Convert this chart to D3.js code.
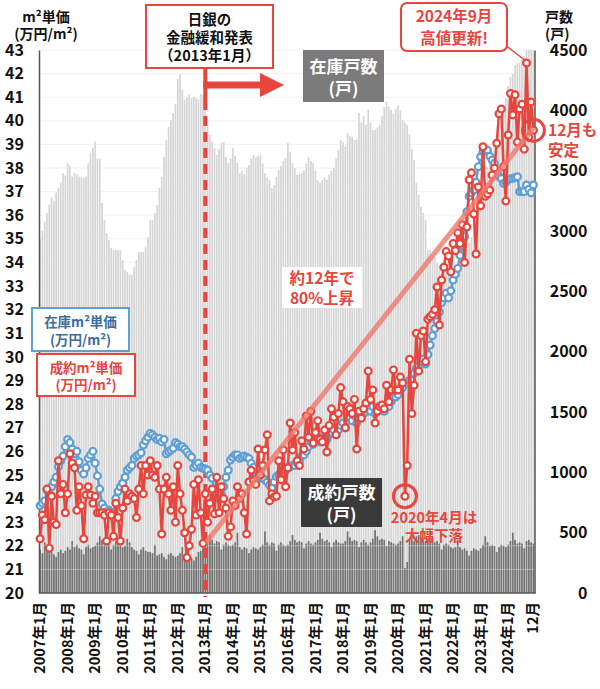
<!DOCTYPE html>
<html><head><meta charset="utf-8">
<script src="https://cdn.jsdelivr.net/npm/d3@7"></script>
<style>
body{margin:0;background:#fff;}
svg text{font-family:"Noto Sans CJK JP","Noto Sans",sans-serif;font-weight:700;}
</style></head>
<body><svg id="c" width="600" height="689"></svg>
<script>
const years = d3.range(2007, 2025);
const leftTicks = d3.range(20, 44);
const rightTicks = d3.range(0, 4501, 500);

// 在庫戸数 (戸)
const inventory = [
 2930,3000,3080,3150,3220,3280,3250,3320,3360,3400,3480,3460,
 3560,3540,3450,3480,3470,3450,3445,3440,3450,3560,3650,3690,
 3740,3600,3600,3232,3091,2983,2925,2860,2842,2842,2840,2842,
 2760,2676,2660,2640,2635,2700,2760,2825,2825,2825,2870,2950,
 3090,3090,3150,3215,3356,3447,3613,3754,3862,3920,3978,4052,
 4260,4300,4170,4090,4110,4130,4100,4110,4100,4090,4135,4125,
 4000,3880,3795,3740,3688,3630,3680,3729,3737,3613,3563,3600,
 3688,3620,3563,3480,3500,3470,3520,3547,3597,3630,3610,3620,
 3630,3560,3480,3440,3422,3356,3380,3450,3505,3540,3580,3605,
 3729,3655,3563,3520,3464,3470,3480,3500,3560,3613,3580,3563,
 3500,3422,3400,3422,3440,3422,3470,3500,3522,3600,3670,3754,
 3740,3700,3812,3790,3780,3754,3760,3978,3900,3950,3880,4003,
 3900,3837,3837,3860,3880,3950,4028,4069,4030,4003,3970,4010,
 4044,4000,3920,3900,3878,3800,3680,3588,3400,3300,3200,3150,
 3091,2842,2842,2800,2785,2735,2720,2700,2680,2700,2690,2660,
 2650,2680,2700,2720,2750,2800,2850,2900,2950,3000,3100,3200,
 3250,3330,3420,3530,3580,3640,3700,3754,3820,3900,4003,4100,
 4200,4276,4300,4375,4390,4392,4420,4450,4500,4500,4500,4500
];
// 成約戸数 (戸)
const contracts = [
 360,330,420,350,340,370,320,300,340,360,330,350,
 380,360,430,380,400,370,360,320,380,400,370,380,
 390,420,470,440,400,420,410,360,400,430,410,400,
 380,390,450,420,380,360,350,320,360,380,350,340,
 340,330,400,310,320,330,300,280,320,330,310,300,
 310,330,380,320,300,310,290,270,300,340,350,380,
 400,420,480,440,410,430,420,360,400,420,400,390,
 400,420,500,380,360,380,370,330,360,380,370,360,
 380,400,510,420,400,420,410,350,400,420,400,390,
 400,430,480,440,420,430,420,370,410,430,410,400,
 420,440,500,450,430,440,420,380,420,440,420,410,
 410,430,510,460,430,440,430,380,420,440,420,400,
 420,450,520,470,440,450,440,390,430,420,410,400,
 410,430,470,207,257,440,480,430,470,480,460,440,
 430,450,520,460,420,430,410,360,400,410,400,380,
 370,380,440,380,360,370,350,310,350,370,360,350,
 370,400,470,420,390,400,390,340,380,400,390,380,
 400,430,500,440,410,420,410,370,430,440,420,410
];
// 在庫m²単価 (万円/m²)
const invPrice = [
 23.7,23.8,23.9,24.36,24.4,24.5,24.7,24.9,25.35,25.6,25.8,26.2,
 26.5,26.37,26.1,25.9,26.0,25.56,25.2,25.04,25.3,25.7,25.85,26.0,
 25.5,24.96,24.4,23.77,23.6,23.44,23.5,23.4,23.38,24.0,24.3,24.5,
 24.65,24.9,25.2,25.3,25.4,25.7,25.8,25.85,25.94,26.27,26.45,26.6,
 26.76,26.7,26.6,26.5,26.55,26.4,26.5,25.9,25.98,26.05,26.13,26.37,
 26.3,26.2,26.2,26.1,25.98,25.85,25.75,25.32,25.4,25.5,25.32,25.28,
 25.25,25.2,25.0,24.86,24.36,24.2,24.0,24.2,24.5,24.9,25.2,25.63,
 25.75,25.85,25.85,25.7,25.75,25.8,25.75,25.7,25.5,25.32,25.1,25.0,
 24.9,24.85,24.8,24.7,24.57,24.43,24.7,24.93,25.0,25.05,25.1,25.2,
 25.32,25.35,25.4,25.4,25.5,25.56,25.8,25.85,26.0,26.2,26.4,26.3,
 26.5,26.6,26.4,26.5,26.6,26.5,26.7,26.8,26.9,26.7,26.9,27.1,
 27.2,27.0,27.3,27.4,27.3,27.5,27.2,27.4,27.5,27.6,27.7,27.8,
 27.7,27.9,27.6,27.7,27.8,27.9,27.7,28.0,27.9,28.1,28.3,28.3,
 28.4,28.6,28.7,28.9,28.9,29.0,29.0,29.3,29.5,29.6,29.8,29.9,
 29.7,30.1,30.5,30.9,31.2,31.5,31.9,32.3,32.5,32.7,32.5,32.8,
 33.26,33.5,33.75,34.3,34.7,35.1,36.15,36.8,36.95,37.07,37.4,38.06,
 38.48,38.7,38.75,38.76,38.5,38.34,38.2,37.78,37.65,37.56,37.35,37.4,
 37.5,37.55,37.56,37.6,37.63,37.0,37.0,37.0,37.28,37.1,36.95,37.28
];
// 成約m²単価 (万円/m²)
const contractPrice = [
 22.3,23.3,23.1,24.4,21.9,24.1,23.0,22.9,25.6,24.2,24.6,23.4,
 24.2,25.9,25.5,25.3,23.5,24.5,23.7,22.3,24.15,24.5,24.15,23.8,
 24.1,23.4,23.4,23.4,23.3,22.2,23.4,23.3,22.4,23.8,23.2,22.2,
 23.6,24.4,23.9,24.2,24.1,24.0,23.2,24.4,25.4,24.2,25.4,25.0,
 25.6,25.0,24.9,25.4,24.4,22.5,24.4,24.9,24.2,23.5,24.5,23.0,
 25.4,24.2,23.5,22.55,21.5,22.0,22.7,24.6,23.3,24.8,23.4,22.1,
 24.2,23.0,23.8,24.4,23.35,24.9,23.4,24.5,24.0,23.6,22.4,22.8,
 23.9,23.7,24.5,24.0,24.2,23.4,22.5,24.7,25.2,24.75,24.6,26.1,
 25.0,25.4,26.06,26.7,23.9,24.2,24.07,24.1,25.6,24.8,26.06,24.5,
 25.3,27.2,26.06,26.8,25.6,25.4,26.45,26.1,27.5,26.6,27.7,26.35,
 26.8,27.3,26.5,26.4,26.9,25.97,27.1,27.8,27.45,26.7,27.6,28.7,
 28.1,27.0,27.9,27.8,27.6,28.2,26.1,27.7,27.4,27.8,28.05,29.4,
 28.2,28.6,27.2,27.7,27.9,27.96,27.8,28.8,28.1,28.6,29.45,28.6,
 28.6,29.15,28.9,24.1,25.4,29.9,27.6,28.8,31.0,29.4,30.9,31.1,
 29.8,31.6,31.7,31.8,32.0,32.96,31.35,33.26,33.8,34.46,34.27,33.6,
 34.8,34.5,35.26,34.8,35.6,34.0,35.5,37.5,37.8,36.05,34.36,37.2,
 36.4,38.9,36.8,36.9,37.07,37.7,38.0,39.05,40.3,40.5,38.06,36.6,
 39.4,41.16,40.25,41.1,39.1,40.5,40.7,38.8,42.45,39.3,40.8,39.6
];
// trend: 2013年1月 → 2024年12月
const trendStart = 22.1, trendEnd = 39.7;

const months = [];
years.forEach(y => d3.range(1, 13).forEach(m => months.push(y + "-" + m)));

const svg = d3.select("#c");
const red = "#e8453c", blue = "#5f9fd3";
const X0 = 39, X1 = 534.5, Y0 = 593, Y1 = 50;

const x = d3.scaleBand().domain(months).range([X0, X1]).paddingInner(0.25).paddingOuter(0.1);
const xc = m => x(m) + x.bandwidth() / 2;
const yL = d3.scaleLinear().domain([20, 43]).range([Y0, Y1]);
const yR = d3.scaleLinear().domain([0, 4500]).range([Y0, Y1]);

// inventory bars
svg.append("g").selectAll("rect").data(inventory).join("rect")
  .attr("x", (d, i) => x(months[i])).attr("width", x.bandwidth())
  .attr("y", d => yR(d)).attr("height", d => Y0 - yR(d))
  .attr("fill", "#d6d6d6");
// contract bars
svg.append("g").selectAll("rect").data(contracts).join("rect")
  .attr("x", (d, i) => x(months[i])).attr("width", x.bandwidth())
  .attr("y", d => yR(d)).attr("height", d => Y0 - yR(d))
  .attr("fill", "#727272");

// gridlines
svg.append("g").selectAll("line").data(leftTicks).join("line")
  .attr("x1", X0).attr("x2", X1).attr("y1", d => yL(d)).attr("y2", d => yL(d))
  .attr("stroke", "#e2e2e2").attr("stroke-width", 1).attr("opacity", 0.45);

// axes
const axL = svg.append("g").attr("transform", `translate(${X0},0)`)
  .call(d3.axisLeft(yL).tickValues(leftTicks).tickSize(0).tickPadding(5));
axL.select(".domain").attr("stroke", "#555").attr("stroke-width", 1.5);
axL.selectAll("text").attr("font-size", 16).attr("fill", "#111").attr("x", -15);
const axR = svg.append("g").attr("transform", `translate(${X1},0)`)
  .call(d3.axisRight(yR).tickValues(rightTicks).tickFormat(d3.format("d")).tickSize(0).tickPadding(0));
axR.select(".domain").attr("stroke", "#555").attr("stroke-width", 1.5);
axR.selectAll("text").attr("font-size", 16).attr("fill", "#111")
  .attr("text-anchor", "end").attr("x", 53);
svg.append("line").attr("x1", X0).attr("x2", X1 + 1).attr("y1", Y0).attr("y2", Y0)
  .attr("stroke", "#555").attr("stroke-width", 1.5);

// x labels
const xLabels = months.map((m, i) => {
  const [yy, mm] = m.split("-");
  if (mm === "1") return {m, t: yy + "年1月"};
  if (i === months.length - 1) return {m, t: "12月"};
  return null;
}).filter(d => d);
svg.append("g").selectAll("text").data(xLabels).join("text")
  .attr("transform", d => `translate(${xc(d.m)},602) rotate(-90)`)
  .attr("text-anchor", "end").attr("dy", "0.35em")
  .attr("font-size", 14.5).attr("fill", "#111").text(d => d.t);

// dashed line 2013-01
const xq = xc("2013-1");
svg.append("line").attr("x1", xq).attr("x2", xq).attr("y1", 100).attr("y2", 597)
  .attr("stroke", red).attr("stroke-width", 4).attr("stroke-dasharray", "10,6");
svg.append("line").attr("x1", xq).attr("x2", xq).attr("y1", 68).attr("y2", 100)
  .attr("stroke", red).attr("stroke-width", 4);
// arrow
svg.append("line").attr("x1", xq - 2).attr("x2", 262).attr("y1", 85).attr("y2", 85)
  .attr("stroke", red).attr("stroke-width", 7);
svg.append("path").attr("d", "M260,73 L284,85 L260,97 Z").attr("fill", red);

// lines
function series(vals, color) {
  const line = d3.line().x((d, i) => xc(months[i])).y(d => yL(d));
  svg.append("path").datum(vals).attr("d", line).attr("fill", "none")
    .attr("stroke", color).attr("stroke-width", 2.5).attr("stroke-linejoin", "round");
  svg.append("g").selectAll("circle").data(vals).join("circle")
    .attr("cx", (d, i) => xc(months[i])).attr("cy", d => yL(d)).attr("r", 3.4)
    .attr("fill", "#fff").attr("stroke", color).attr("stroke-width", 2.2);
}
series(invPrice, blue);
series(contractPrice, red);

// trend line
svg.append("line").attr("x1", xc("2013-1")).attr("y1", yL(trendStart))
  .attr("x2", xc("2024-12")).attr("y2", yL(trendEnd))
  .attr("stroke", "#f07a6e").attr("stroke-width", 5).attr("opacity", 0.8);

// text helper: one text element per line
function lines(xp, ys, arr, size, fill, anchor = "middle") {
  arr.forEach((s, i) => svg.append("text").attr("x", xp).attr("y", ys[i])
    .attr("font-size", size).attr("fill", fill).attr("text-anchor", anchor).text(s));
}

// top-left/right titles
lines(46, [22, 39], ["m²単価", "(万円/m²)"], 14, "#111");
lines(545, [22, 39], ["戸数", "(戸)"], 14, "#111", "start");

// BOJ box
svg.append("rect").attr("x", 146).attr("y", 5).attr("width", 127).attr("height", 63)
  .attr("fill", "#fff").attr("stroke", red).attr("stroke-width", 2);
lines(209.5, [25, 43, 61], ["日銀の", "金融緩和発表", "（2013年1月）"], 14.5, "#111");

// 在庫戸数 box
svg.append("rect").attr("x", 303).attr("y", 50).attr("width", 81).attr("height", 52).attr("fill", "#7b7b7b");
lines(343.5, [73, 95], ["在庫戸数", "(戸)"], 17, "#fff");
// 成約戸数 box
svg.append("rect").attr("x", 301).attr("y", 478).attr("width", 81).attr("height", 49).attr("fill", "#3a3a3a");
lines(341.5, [499, 521], ["成約戸数", "(戸)"], 17, "#fff");

// legend-ish boxes
svg.append("rect").attr("x", 32).attr("y", 308).attr("width", 97).attr("height", 43)
  .attr("fill", "#fff").attr("stroke", blue).attr("stroke-width", 2);
lines(80.5, [327, 345], ["在庫m²単価", "(万円/m²)"], 13.5, "#3b6c9c");
svg.append("rect").attr("x", 37).attr("y", 354).attr("width", 98).attr("height", 42)
  .attr("fill", "#fff").attr("stroke", red).attr("stroke-width", 2);
lines(86, [373, 390], ["成約m²単価", "(万円/m²)"], 13.5, red);

// 約12年で 80%上昇
svg.append("rect").attr("x", 282).attr("y", 267).attr("width", 80).attr("height", 41).attr("fill", "#fff");
lines(322, [284, 304], ["約12年で", "80%上昇"], 15.5, red);

// 2024年9月 callout
const px = xc("2024-9"), py = yL(contractPrice[212]);
svg.append("line").attr("x1", 504).attr("y1", 44).attr("x2", px - 2).attr("y2", py - 3)
  .attr("stroke", red).attr("stroke-width", 1.5);
svg.append("rect").attr("x", 401).attr("y", 3).attr("width", 106).attr("height", 48).attr("rx", 6)
  .attr("fill", "#fff").attr("stroke", red).attr("stroke-width", 2);
lines(454, [22, 44], ["2024年9月", "高値更新!"], 15.5, red);

// 12月 circle
svg.append("circle").attr("cx", xc("2024-12")).attr("cy", yL(contractPrice[215])).attr("r", 11)
  .attr("fill", "none").attr("stroke", red).attr("stroke-width", 3);
lines(548, [136, 156], ["12月も", "安定"], 15.5, red, "start");

// 2020年4月 circle
svg.append("circle").attr("cx", xc("2020-4")).attr("cy", yL(contractPrice[159])).attr("r", 11.5)
  .attr("fill", "none").attr("stroke", red).attr("stroke-width", 3);
lines(434, [523, 541], ["2020年4月は", "大幅下落"], 14.5, red);
</script></body></html>
